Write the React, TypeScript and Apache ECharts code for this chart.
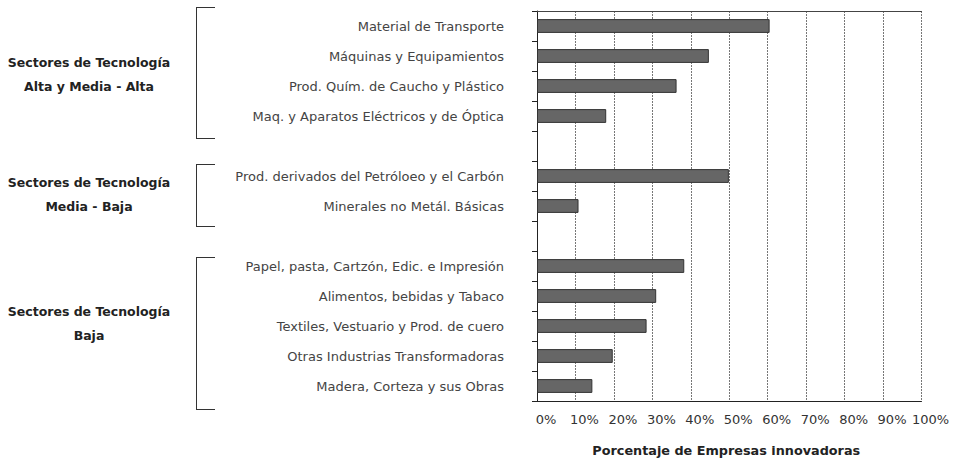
import React, { useEffect, useRef } from "react";
import * as echarts from "echarts";

const categories = [
  "Material de Transporte",
  "Máquinas y Equipamientos",
  "Prod. Quím. de Caucho y Plástico",
  "Maq. y Aparatos Eléctricos y de Óptica",
  " ",
  "Prod. derivados del Petróloeo y el Carbón",
  "Minerales no Metál. Básicas",
  "  ",
  "Papel, pasta, Cartzón, Edic. e Impresión",
  "Alimentos, bebidas y Tabaco",
  "Textiles, Vestuario y Prod. de cuero",
  "Otras Industrias Transformadoras",
  "Madera, Corteza y sus Obras",
];

const values: (number | null)[] = [
  60.5, 44.7, 36.3, 18.0, null, 49.9, 10.8, null, 38.3, 31.0, 28.5, 19.7, 14.4,
];

const xTicks = [0, 10, 20, 30, 40, 50, 60, 70, 80, 90, 100];

const groupLabels = [
  ["Sectores de Tecnología", "Alta y Media - Alta"],
  ["Sectores de Tecnología", "Media - Baja"],
  ["Sectores de Tecnología", "Baja"],
];

const axisTitle = "Porcentaje de Empresas innovadoras";

const FONT = "'DejaVu Sans', Verdana, sans-serif";

export default function App() {
  const ref = useRef<HTMLDivElement>(null);
  useEffect(() => {
    if (!ref.current) return;
    const chart = echarts.init(ref.current, undefined, { renderer: "svg" });

    const brackets = [
      { top: 7, bottom: 138 },
      { top: 164, bottom: 226 },
      { top: 257, bottom: 409 },
    ];
    const labelY = [74, 194, 323];

    const graphics: any[] = [];
    brackets.forEach((b) => {
      graphics.push(
        { type: "line", shape: { x1: 196, y1: b.top + 0.5, x2: 215, y2: b.top + 0.5 }, style: { stroke: "#333", lineWidth: 1 } },
        { type: "line", shape: { x1: 196.5, y1: b.top, x2: 196.5, y2: b.bottom + 1 }, style: { stroke: "#333", lineWidth: 1 } },
        { type: "line", shape: { x1: 196, y1: b.bottom + 0.5, x2: 215, y2: b.bottom + 0.5 }, style: { stroke: "#333", lineWidth: 1 } }
      );
    });
    groupLabels.forEach((lines, i) => {
      graphics.push({
        type: "text",
        x: 89,
        y: labelY[i],
        style: {
          text: lines.join("\n"),
          font: `bold 12.5px ${FONT}`,
          fill: "#222",
          align: "center",
          verticalAlign: "middle",
          lineHeight: 24,
        },
      });
    });

    chart.setOption({
      animation: false,
      backgroundColor: "#fff",
      grid: { left: 537, right: 37.5, top: 11, bottom: 54, containLabel: false },
      xAxis: [
        {
          type: "value",
          min: 0,
          max: 100,
          interval: 10,
          position: "bottom",
          axisLine: { show: true, lineStyle: { color: "#222", width: 1 } },
          axisTick: { show: false },
          axisLabel: {
            formatter: (v: number) => (xTicks.includes(v) ? `${v}%` : ""),
            color: "#333",
            fontFamily: FONT,
            fontSize: 13,
            margin: 12,
            padding: [0, 0, 0, 18],
          },
          splitLine: {
            show: true,
            lineStyle: { color: "#777", type: [2, 1], width: 1 },
          },
          name: axisTitle,
          nameLocation: "middle",
          nameGap: 43,
          nameTextStyle: {
            fontFamily: FONT,
            fontWeight: "bold",
            fontSize: 12.8,
            color: "#222",
            padding: [0, 6, 0, 0],
          },
        },
        {
          type: "value",
          min: 0,
          max: 100,
          interval: 10,
          position: "top",
          axisLine: { show: true, lineStyle: { color: "#444", width: 1 } },
          axisTick: { show: false },
          axisLabel: { show: false },
          splitLine: { show: false },
        },
      ],
      yAxis: {
        type: "category",
        inverse: true,
        data: categories,
        axisLine: { show: true, lineStyle: { color: "#222", width: 1 } },
        axisTick: { show: true, length: 5, lineStyle: { color: "#222" } },
        axisLabel: {
          color: "#444",
          fontFamily: FONT,
          fontSize: 13,
          margin: 33,
        },
        splitLine: { show: false },
      },
      series: [
        {
          type: "bar",
          xAxisIndex: 0,
          data: values,
          barWidth: "46%",
          itemStyle: {
            color: "#666666",
            borderColor: "#333",
            borderWidth: 1,
          },
        },
      ],
      graphic: graphics,
    });

    return () => chart.dispose();
  }, []);

  return (
    <div
      ref={ref}
      style={{ position: "absolute", left: 0, top: 0, width: 959, height: 462 }}
    />
  );
}
